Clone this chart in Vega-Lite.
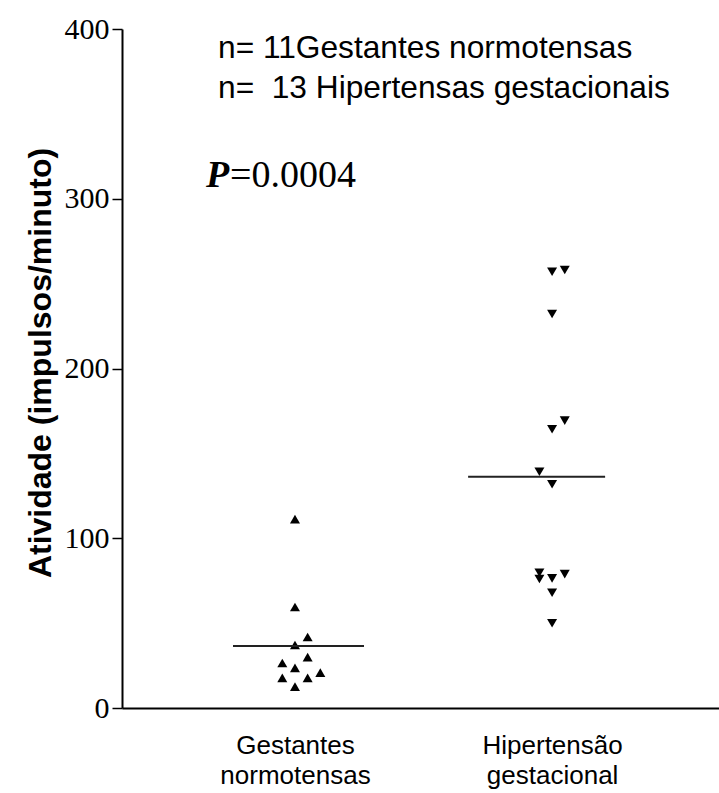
{
  "$schema": "https://vega.github.io/schema/vega-lite/v6.json",
  "width": 597,
  "height": 679,
  "autosize": {"type": "none"},
  "padding": {"left": 122, "top": 29, "right": 0, "bottom": 85},
  "background": "white",
  "config": {"view": {"stroke": null}},
  "datasets": {
    "pontos": [
      {"grupo": "Gestantes normotensas", "coluna": 0, "atividade": 111.3},
      {"grupo": "Gestantes normotensas", "coluna": 0, "atividade": 59.5},
      {"grupo": "Gestantes normotensas", "coluna": 1, "atividade": 41.8},
      {"grupo": "Gestantes normotensas", "coluna": 0, "atividade": 37.1},
      {"grupo": "Gestantes normotensas", "coluna": 1, "atividade": 30.0},
      {"grupo": "Gestantes normotensas", "coluna": -1, "atividade": 26.5},
      {"grupo": "Gestantes normotensas", "coluna": 0, "atividade": 23.6},
      {"grupo": "Gestantes normotensas", "coluna": 2, "atividade": 20.8},
      {"grupo": "Gestantes normotensas", "coluna": -1, "atividade": 17.7},
      {"grupo": "Gestantes normotensas", "coluna": 1, "atividade": 17.7},
      {"grupo": "Gestantes normotensas", "coluna": 0, "atividade": 12.6},
      {"grupo": "Hipertensão gestacional", "coluna": 0, "atividade": 257.0},
      {"grupo": "Hipertensão gestacional", "coluna": 1, "atividade": 258.0},
      {"grupo": "Hipertensão gestacional", "coluna": 0, "atividade": 232.1},
      {"grupo": "Hipertensão gestacional", "coluna": 1, "atividade": 169.3},
      {"grupo": "Hipertensão gestacional", "coluna": 0, "atividade": 164.2},
      {"grupo": "Hipertensão gestacional", "coluna": -1, "atividade": 139.2},
      {"grupo": "Hipertensão gestacional", "coluna": 0, "atividade": 131.8},
      {"grupo": "Hipertensão gestacional", "coluna": -1, "atividade": 79.7},
      {"grupo": "Hipertensão gestacional", "coluna": -1, "atividade": 76.0},
      {"grupo": "Hipertensão gestacional", "coluna": 0, "atividade": 76.4},
      {"grupo": "Hipertensão gestacional", "coluna": 1, "atividade": 78.9},
      {"grupo": "Hipertensão gestacional", "coluna": 0, "atividade": 67.9},
      {"grupo": "Hipertensão gestacional", "coluna": 0, "atividade": 49.9}
    ]
  },
  "encoding": {
    "x": {
      "field": "grupo",
      "type": "nominal",
      "sort": ["Gestantes normotensas", "Hipertensão gestacional"],
      "scale": {"type": "point", "domain": ["Gestantes normotensas", "Hipertensão gestacional"], "padding": 0.661, "align": 0.509},
      "axis": {
        "title": null,
        "labelAngle": 0,
        "ticks": false,
        "domainColor": "black",
        "domainWidth": 2,
        "labelFont": "Liberation Sans",
        "labelFontSize": 26,
        "labelColor": "black",
        "labelPadding": 24,
        "labelLineHeight": 30,
        "labelBaseline": "top",
        "labelExpr": "split(datum.label, ' ')"
      }
    },
    "y": {
      "field": "atividade",
      "type": "quantitative",
      "scale": {"domain": [0, 400], "nice": false, "zero": true},
      "axis": {
        "title": "Atividade (impulsos/minuto)",
        "titleFont": "Liberation Sans",
        "titleFontWeight": "bold",
        "titleFontSize": 32,
        "titleColor": "black",
        "titlePadding": 7,
        "titleY": 333.5,
        "values": [0, 100, 200, 300, 400],
        "grid": false,
        "domainColor": "black",
        "domainWidth": 2,
        "tickColor": "black",
        "tickSize": 10,
        "tickWidth": 1.5,
        "labelFont": "Liberation Serif",
        "labelFontSize": 30,
        "labelColor": "black",
        "labelPadding": 3
      }
    }
  },
  "layer": [
    {
      "data": {"name": "pontos"},
      "mark": {"type": "point", "filled": true, "size": 100, "opacity": 1, "color": "black"},
      "encoding": {
        "xOffset": {"field": "coluna", "type": "quantitative", "scale": {"domain": [-1, 2], "range": [-12.7, 25.3]}},
        "shape": {"field": "grupo", "type": "nominal", "scale": {"domain": ["Gestantes normotensas", "Hipertensão gestacional"], "range": ["triangle-up", "triangle-down"]}, "legend": null}
      }
    },
    {
      "data": {"values": [{"grupo": "Gestantes normotensas", "atividade": 36.5}]},
      "mark": {"type": "tick", "orient": "horizontal", "size": 131, "thickness": 2, "color": "#222", "opacity": 1, "xOffset": 3.5},
      "encoding": {}
    },
    {
      "data": {"values": [{"grupo": "Hipertensão gestacional", "atividade": 136.3}]},
      "mark": {"type": "tick", "orient": "horizontal", "size": 137, "thickness": 2, "color": "#222", "opacity": 1, "xOffset": -15.5},
      "encoding": {}
    },
    {
      "data": {"values": [{"grupo": "Gestantes normotensas", "texto": "n= 11Gestantes normotensas", "atividade": 388.8}, {"grupo": "Gestantes normotensas", "texto": "n= \u00a013 Hipertensas gestacionais", "atividade": 365.2}]},
      "mark": {"type": "text", "align": "left", "baseline": "middle", "dx": -77, "font": "Liberation Sans", "fontSize": 31.7, "color": "black"},
      "encoding": {"text": {"field": "texto"}}
    },
    {
      "data": {"values": [{"grupo": "Gestantes normotensas", "texto": "P", "atividade": 313.4}]},
      "mark": {"type": "text", "align": "left", "baseline": "middle", "dx": -89, "font": "Liberation Serif", "fontStyle": "italic", "fontWeight": "bold", "fontSize": 38, "color": "black"},
      "encoding": {"text": {"field": "texto"}}
    },
    {
      "data": {"values": [{"grupo": "Gestantes normotensas", "texto": "=0.0004", "atividade": 313.4}]},
      "mark": {"type": "text", "align": "left", "baseline": "middle", "dx": -65, "font": "Liberation Serif", "fontSize": 38, "color": "black"},
      "encoding": {"text": {"field": "texto"}}
    }
  ]
}
